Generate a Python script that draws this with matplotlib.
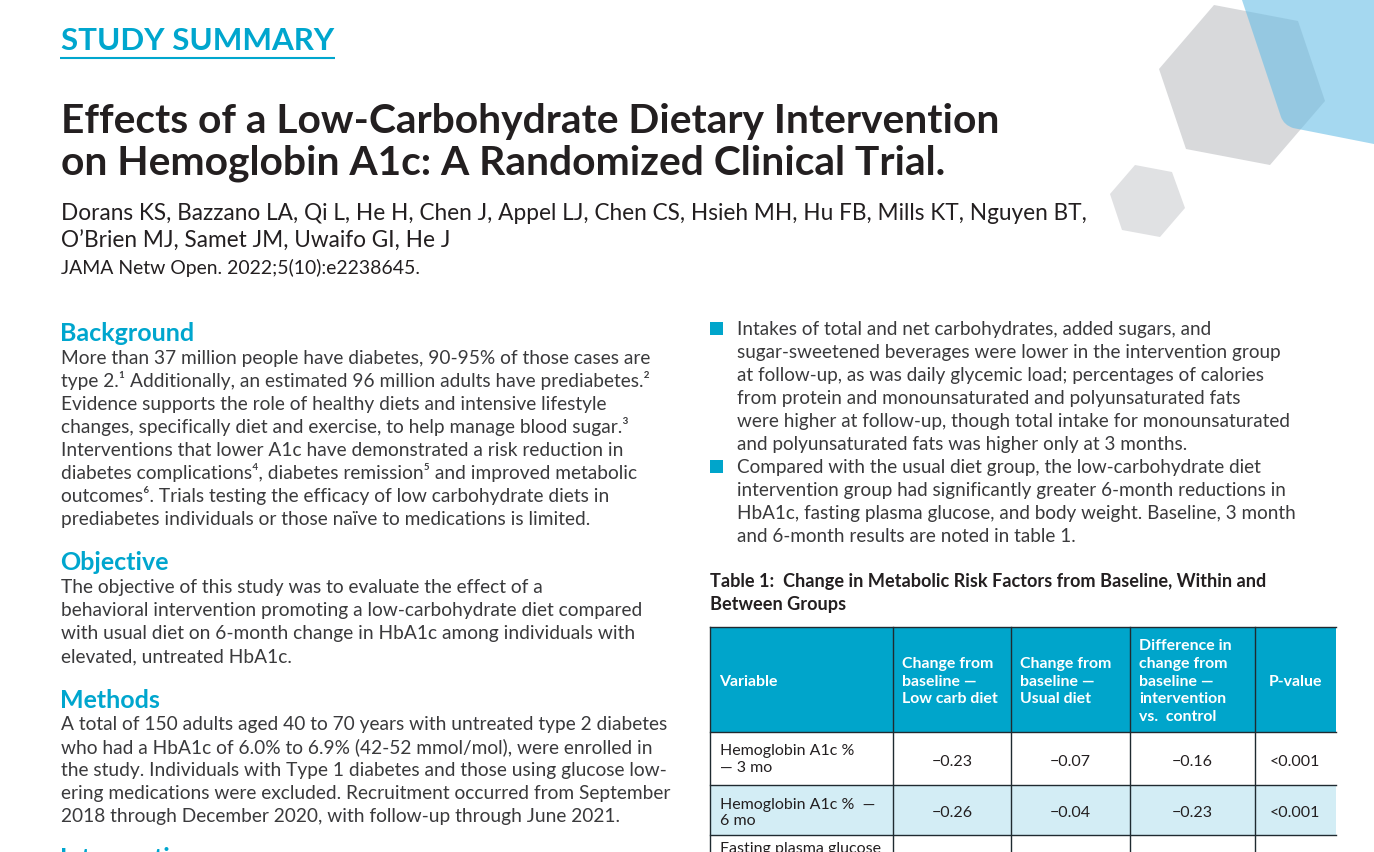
import matplotlib
matplotlib.use("Agg")
import matplotlib.pyplot as plt
from matplotlib.patches import Polygon, PathPatch, Rectangle
from matplotlib.path import Path

# =========================
# TEXT CONTENT
# =========================
TITLE_LINES = [
    "Effects of a Low-Carbohydrate Dietary Intervention",
    "on Hemoglobin A1c: A Randomized Clinical Trial.",
]
AUTHOR_LINES = [
    "Dorans KS, Bazzano LA, Qi L, He H, Chen J, Appel LJ, Chen CS, Hsieh MH, Hu FB, Mills KT, Nguyen BT,",
    "O’Brien MJ, Samet JM, Uwaifo GI, He J",
]
JOURNAL = "JAMA Netw Open. 2022;5(10):e2238645."

BACKGROUND = [
    "More than 37 million people have diabetes, 90-95% of those cases are",
    "type 2.¹ Additionally, an estimated 96 million adults have prediabetes.²",
    "Evidence supports the role of healthy diets and intensive lifestyle",
    "changes, specifically diet and exercise, to help manage blood sugar.³",
    "Interventions that lower A1c have demonstrated a risk reduction in",
    "diabetes complications⁴, diabetes remission⁵ and improved metabolic",
    "outcomes⁶. Trials testing the efficacy of low carbohydrate diets in",
    "prediabetes individuals or those naïve to medications is limited.",
]
OBJECTIVE = [
    "The objective of this study was to evaluate the effect of a",
    "behavioral intervention promoting a low-carbohydrate diet compared",
    "with usual diet on 6-month change in HbA1c among individuals with",
    "elevated, untreated HbA1c.",
]
METHODS = [
    "A total of 150 adults aged 40 to 70 years with untreated type 2 diabetes",
    "who had a HbA1c of 6.0% to 6.9% (42-52 mmol/mol), were enrolled in",
    "the study. Individuals with Type 1 diabetes and those using glucose low-",
    "ering medications were excluded. Recruitment occurred from September",
    "2018 through December 2020, with follow-up through June 2021.",
]
BULLET_1 = [
    "Intakes of total and net carbohydrates, added sugars, and",
    "sugar-sweetened beverages were lower in the intervention group",
    "at follow-up, as was daily glycemic load; percentages of calories",
    "from protein and monounsaturated and polyunsaturated fats",
    "were higher at follow-up, though total intake for monounsaturated",
    "and polyunsaturated fats was higher only at 3 months.",
]
BULLET_2 = [
    "Compared with the usual diet group, the low-carbohydrate diet",
    "intervention group had significantly greater 6-month reductions in",
    "HbA1c, fasting plasma glucose, and body weight. Baseline, 3 month",
    "and 6-month results are noted in table 1.",
]
TABLE_TITLE = [
    "Table 1:  Change in Metabolic Risk Factors from Baseline, Within and",
    "Between Groups",
]

# Table data
HEADERS = [
    "Variable",
    "Change from\nbaseline —\nLow carb diet",
    "Change from\nbaseline —\nUsual diet",
    "Difference in\nchange from\nbaseline —\nintervention\nvs.  control",
    "P-value",
]
ROW_NAMES = ["Hemoglobin A1c %\n— 3 mo", "Hemoglobin A1c %  —\n6 mo"]
LOW_CARB = ["−0.23", "−0.26"]
USUAL = ["−0.07", "−0.04"]
DIFFERENCE = ["−0.16", "−0.23"]
P_VALUES = ["<0.001", "<0.001"]
CUT_ROW_NAME = "Fasting plasma glucose"

# =========================
# STYLE
# =========================
FONT = ["Lato", "Open Sans", "DejaVu Sans"]
TEAL = "#00a6ce"
DARK = "#231f20"
BODY = "#3a3a3c"
HEADER_BG = "#00a5cb"
ROW_BG = "#d3edf5"
BODY_SIZE = 13.8
BULLET_SIZE = 13.63
CELL_SIZE = 11.5
HEAD_SIZE = 11.45
SECTION_SIZE = 18

plt.rcParams["font.family"] = FONT

fig = plt.figure(figsize=(13.74, 8.52), dpi=100)
ax = fig.add_axes([0, 0, 1, 1])
ax.set_xlim(0, 1374)
ax.set_ylim(852, 0)
ax.axis("off")


def draw_lines(lines, x, y, step, size, color=BODY, weight="normal"):
    for i, line in enumerate(lines):
        ax.text(x, y + i * step, line, fontsize=size, color=color,
                fontweight=weight, va="baseline", ha="left")


# Decorative shapes, top right
ax.add_patch(Polygon([(1214, 5), (1298, 21), (1325, 101), (1270, 165), (1186, 149), (1159, 69)],
                     facecolor="#d8d9db", edgecolor="none", zorder=1))
ax.add_patch(Polygon([(1135, 165), (1172, 172), (1185, 208), (1160, 237), (1122, 230), (1110, 194)],
                     facecolor="#e0e1e3", edgecolor="none", zorder=1))
blue = Path([(1242, 0), (1281, 117), (1284, 125), (1293, 128), (1374, 144), (1374, 0), (1242, 0)],
            [Path.MOVETO, Path.LINETO, Path.CURVE3, Path.CURVE3, Path.LINETO, Path.LINETO, Path.CLOSEPOLY])
ax.add_patch(PathPatch(blue, facecolor="#69bee6", edgecolor="none", alpha=0.6, zorder=2))

# Header block
ax.text(61, 50, "STUDY SUMMARY", fontsize=22.6, color=TEAL, fontweight="bold", va="baseline")
ax.plot([60, 335], [58, 58], color=TEAL, lw=1.5, solid_capstyle="butt")
draw_lines(TITLE_LINES, 61, 133, 42, 29.35, DARK, "bold")
draw_lines(AUTHOR_LINES, 61, 220, 28, 16.3, DARK)
ax.text(61, 274, JOURNAL, fontsize=13.97, color=DARK, va="baseline")

# Left column
for head, head_y, lines, y in [("Background", 341, BACKGROUND, 364),
                               ("Objective", 570, OBJECTIVE, 593),
                               ("Methods", 708, METHODS, 730)]:
    ax.text(60, head_y, head, fontsize=SECTION_SIZE, color=TEAL, fontweight="bold", va="baseline")
    draw_lines(lines, 61, y, 23, BODY_SIZE)
ax.text(60, 866, "Intervention", fontsize=SECTION_SIZE, color=TEAL, fontweight="bold", va="baseline")

# Right column bullets
for y in [322, 460]:
    ax.add_patch(Rectangle((710, y), 13, 13, facecolor=HEADER_BG, edgecolor="none"))
draw_lines(BULLET_1, 737, 335, 23, BULLET_SIZE)
draw_lines(BULLET_2, 737, 473, 23, BULLET_SIZE)
draw_lines(TABLE_TITLE, 709.5, 587, 23, 13.07, DARK, "bold")

# Table
col_x = [710, 893, 1011, 1130, 1255, 1335.5]
row_y = [627, 732, 785, 835, 860]
ax.add_patch(Rectangle((col_x[0], row_y[0]), col_x[-1] - col_x[0], row_y[1] - row_y[0],
                       facecolor=HEADER_BG, edgecolor="none", zorder=1))
ax.add_patch(Rectangle((col_x[0], row_y[2]), col_x[-1] - col_x[0], row_y[3] - row_y[2],
                       facecolor=ROW_BG, edgecolor="none", zorder=1))
for x in col_x[:-1]:
    ax.plot([x, x], [row_y[0], 852], color="#1f2a30", lw=1, zorder=3)
for y in row_y[:-1]:
    ax.plot([col_x[0], col_x[-1]], [y, y], color="#1f2a30", lw=1, zorder=3)

head_mid = (row_y[0] + row_y[1]) / 2 + 2
for i, head in enumerate(HEADERS):
    if head == "P-value":
        ax.text((col_x[i] + col_x[i + 1]) / 2, head_mid, head, fontsize=HEAD_SIZE, color="white",
                fontweight="bold", ha="center", va="center", zorder=4)
    else:
        ax.text(col_x[i] + 9, head_mid, head, fontsize=HEAD_SIZE, color="white", fontweight="bold",
                ha="left", va="center", linespacing=1.34, zorder=4)

for r in range(len(ROW_NAMES)):
    mid = (row_y[r + 1] + row_y[r + 2]) / 2
    ax.text(col_x[0] + 10, mid + 1 + 2 * r, ROW_NAMES[r], fontsize=CELL_SIZE, color=DARK, ha="left",
            va="center", linespacing=1.2, zorder=4)
    row_vals = [LOW_CARB[r], USUAL[r], DIFFERENCE[r], P_VALUES[r]]
    for c, val in enumerate(row_vals):
        ax.text((col_x[c + 1] + col_x[c + 2]) / 2, mid + 3, val, fontsize=CELL_SIZE, color=DARK,
                ha="center", va="center", zorder=4)
ax.text(col_x[0] + 10, 853, CUT_ROW_NAME, fontsize=CELL_SIZE, color=DARK, ha="left", va="baseline", zorder=4)

fig.savefig("out.png", dpi=100, facecolor="white")
